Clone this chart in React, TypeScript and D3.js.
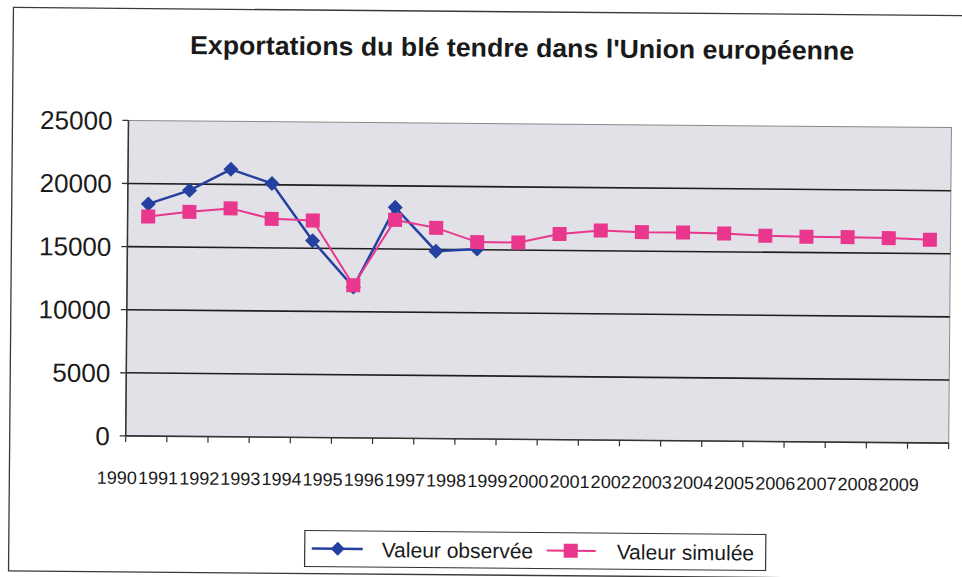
import React from 'react';
import * as d3 from 'd3';

const years = ['1990','1991','1992','1993','1994','1995','1996','1997','1998','1999','2000','2001','2002','2003','2004','2005','2006','2007','2008','2009'];
const observed = [18400, 19500, 21200, 20100, 15600, 11950, 18300, 14850, 15050];
const simulated = [17400, 17800, 18100, 17300, 17200, 12100, 17300, 16700, 15600, 15600, 16300, 16600, 16500, 16500, 16450, 16300, 16250, 16250, 16200, 16100];
const yTicks = [0, 5000, 10000, 15000, 20000, 25000];
const title = "Exportations du blé tendre dans l'Union européenne";
const seriesNames = ['Valeur observée', 'Valeur simulée'];

const W = 962, H = 577;
const plot = { left: 127, right: 950, top: 123.5, bottom: 439 };
const BLUE = '#2440a0';
const PINK = '#e8378d';
const FONT = "'Liberation Sans', Arial, sans-serif";

export default function App() {
  const x = d3.scaleBand<string>().domain(years).range([plot.left, plot.right]);
  const y = d3.scaleLinear().domain([0, 25000]).range([plot.bottom, plot.top]);
  const cx = (i: number) => (x(years[i]) as number) + x.bandwidth() / 2;
  const line = d3.line<number>().x((_, i) => cx(i)).y(d => y(d));
  const diamond = (px: number, py: number, r: number) => `M${px},${py - r}L${px + r},${py}L${px},${py + r}L${px - r},${py}Z`;
  const sq = 14;
  const boundaries = d3.range(years.length + 1).map(i => plot.left + i * x.step());

  return (
    <svg width={W} height={H} style={{ position: 'absolute', left: 0, top: 0, display: 'block', background: '#fff' }} fontFamily={FONT}>
      <g transform="rotate(0.5 480 290)">
        {/* outer frame */}
        <rect x={11} y={11.5} width={1000} height={563.5} fill="none" stroke="#3a3a3a" strokeWidth={1.3} />
        {/* title */}
        <text x={520} y={56.5} textAnchor="middle" fontSize={26} fontWeight="bold" fill="#1a1a1a" textLength={664} lengthAdjust="spacingAndGlyphs">{title}</text>
        {/* plot area */}
        <rect x={plot.left} y={plot.top} width={plot.right - plot.left} height={plot.bottom - plot.top} fill="#e2e1e7" stroke="#8a8a8a" strokeWidth={1} />
        {yTicks.filter(t => t > 0 && t < 25000).map(t => (
          <line key={t} x1={plot.left} x2={plot.right} y1={y(t)} y2={y(t)} stroke="#1e1e1e" strokeWidth={1.6} />
        ))}
        {/* axes */}
        <line x1={plot.left} x2={plot.left} y1={plot.top} y2={plot.bottom} stroke="#333" strokeWidth={1.5} />
        <line x1={plot.left} x2={plot.right} y1={plot.bottom} y2={plot.bottom} stroke="#333" strokeWidth={1.6} />
        {yTicks.map(t => (
          <g key={t}>
            <line x1={plot.left - 6} x2={plot.left} y1={y(t)} y2={y(t)} stroke="#333" strokeWidth={1.3} />
            <text x={111} y={y(t)} dy="0.36em" textAnchor="end" fontSize={26} fill="#1a1a1a">{t}</text>
          </g>
        ))}
        {boundaries.map((b, i) => (
          <line key={i} x1={b} x2={b} y1={plot.bottom} y2={plot.bottom + 6} stroke="#333" strokeWidth={1.2} />
        ))}
        {years.map((yr, i) => (
          <text key={yr} x={cx(i) - 29} y={487} textAnchor="middle" fontSize={18} fill="#1a1a1a">{yr}</text>
        ))}
        {/* observed series */}
        <path d={line(observed) as string} fill="none" stroke={BLUE} strokeWidth={2.5} />
        {observed.map((v, i) => (
          <path key={i} d={diamond(cx(i), y(v), 7.5)} fill={BLUE} />
        ))}
        {/* simulated series */}
        <path d={line(simulated) as string} fill="none" stroke={PINK} strokeWidth={2} />
        {simulated.map((v, i) => (
          <rect key={i} x={cx(i) - sq / 2} y={y(v) - sq / 2} width={sq} height={sq} fill={PINK} />
        ))}
        {/* legend */}
        <rect x={307} y={532} width={461} height={36} fill="#fff" stroke="#333" strokeWidth={1.2} />
        <line x1={314} x2={365} y1={550} y2={550} stroke={BLUE} strokeWidth={2.5} />
        <path d={diamond(340, 550, 7)} fill={BLUE} />
        <text x={384} y={558} fontSize={21} fill="#1a1a1a">{seriesNames[0]}</text>
        <line x1={549} x2={598} y1={550} y2={550} stroke={PINK} strokeWidth={2} />
        <rect x={573 - 7} y={550 - 7} width={14} height={14} fill={PINK} />
        <text x={619} y={558} fontSize={21} fill="#1a1a1a">{seriesNames[1]}</text>
      </g>
    </svg>
  );
}
